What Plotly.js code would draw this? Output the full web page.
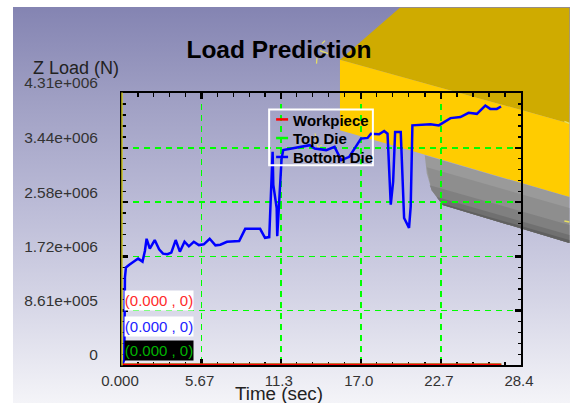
<!DOCTYPE html>
<html><head><meta charset="utf-8">
<script src="https://cdn.plot.ly/plotly-3.0.1.min.js"></script>
<style>
html,body{margin:0;padding:0;background:#fff;width:570px;height:403px;overflow:hidden}
#bg{position:absolute;left:13px;top:7px;width:557px;height:396px;background:linear-gradient(#8484b2,#a0a0c4 24%,#babad6 49%,#d5d5e6 74%,#f4f4f8)}
#plot{position:absolute;left:0;top:0;width:570px;height:403px}
</style></head><body>
<div id="bg"></div><div id="plot"></div>
<script>
const timeBottom=[0,0.16,0.21,0.28,0.52,0.87,1.15,1.46,1.63,1.75,1.98,2.33,2.64,2.92,3.23,3.51,3.82,4.12,4.45,4.76,5.11,5.47,5.82,6.24,6.65,7.0,7.47,8.34,8.77,9.83,10.18,10.48,10.72,10.77,11.01,11.05,11.24,11.36,11.48,12.18,12.89,13.36,13.71,14.54,15.13,15.6,16.18,16.66,17.01,17.48,17.72,18.3,18.66,18.9,19.01,19.13,19.3,19.44,19.84,19.95,20.08,20.43,20.55,20.67,21.96,22.55,23.38,24.09,24.67,25.26,25.86,26.21,26.68,26.98];
const loadBottom=[0,78000,1387000,1545000,1587000,1650000,1686000,1639000,1807000,2000000,1843000,1980000,1833000,1764000,1755000,1780000,1980000,1796000,1953000,1880000,1953000,1900000,1912000,2000000,1896000,1906000,1953000,1964000,2157000,2157000,2016000,2027000,3378000,2855000,2487000,2042000,2801000,3273000,3405000,3430000,3456000,3483000,3430000,3405000,3456000,3247000,3299000,3456000,3587000,3598000,3665000,3656000,3708000,3665000,3064000,2540000,2907000,3692000,3692000,3064000,2330000,2173000,2514000,3797000,3813000,3797000,3912000,3928000,3995000,3980000,4112000,4058000,4058000,4096000];
const timeFlat=[0,27.0];
const loadFlat=[0,0];
const xTicks=[0,5.67,11.3,17.0,22.7,28.4];
const xLabels=['0.000','5.67','11.3','17.0','22.7','28.4'];
const yTicks=[0,861000,1720000,2580000,3440000,4310000];
const yLabels=['0','8.61e+005','1.72e+006','2.58e+006','3.44e+006','4.31e+006'];
const seriesNames=['Workpiece','Top Die','Bottom Die'];
const cursorLabels=['(0.000 , 0)','(0.000 , 0)','(0.000 , 0)'];

const L=121.5,R=521.5,T=92.5,B=365.5,W=570,H=403;
const fx=x=>(x-L)/(R-L), fy=y=>(B-y)/(B-T);
const poly=(pts,color)=>({type:'path',xref:'paper',yref:'paper',layer:'below',fillcolor:color,line:{width:0},
  path:'M'+pts.map(p=>fx(p[0]).toFixed(4)+' '+fy(p[1]).toFixed(4)).join(' L')+' Z'});
const seg=(x0,y0,x1,y1,color,w,layer)=>({type:'line',xref:'paper',yref:'paper',layer:layer||'below',x0:fx(x0),y0:fy(y0),x1:fx(x1),y1:fy(y1),line:{color:color,width:w}});
const minorBetween=(ticks,n)=>{const o=[];for(let i=0;i<ticks.length-1;i++)for(let k=1;k<n;k++)o.push(ticks[i]+(ticks[i+1]-ticks[i])*k/n);return o;};
const shapes=[
 poly([[340,59],[400,7],[570,7],[570,123]],'#cfab00'),
 poly([[340,59],[570,123],[570,197],[410,150],[340,130]],'#ffcc00'),
 poly([[425,155],[570,197],[570,243],[443,205],[432,190],[427,173]],'#9a9a9a'),
 poly([[427,167],[570,208],[570,243],[443,205],[432,190]],'#8e8e8e'),
 poly([[430,185],[570,225],[570,243],[443,205],[432,190]],'#808080'),
 poly([[437,197],[570,235],[570,243],[443,205]],'#707070'),
 poly([[443,203.5],[570,240],[570,243],[443,205]],'#606060'),
 seg(320,50,328,53,'#e8e060',1.2), seg(322,43,325,40,'#e8e060',1.2), seg(317,57,316.5,63,'#e8e060',1.2),
 seg(565,121,570,123,'#e8e060',1.2), seg(565,221,570,222,'#e8e060',1.5),
 seg(315,133,318,148,'#e8e060',1), seg(317,147,322,145,'#e8e060',1),
 seg(121.5,92,121.5,366,'#c8c020',1.5,'above'),
 {type:'rect',xref:'paper',yref:'paper',layer:'above',x0:fx(269),x1:fx(373),y0:fy(109),y1:fy(165),line:{color:'#fff',width:2},fillcolor:'rgba(0,0,0,0)'},
 seg(276,119,288,119,'#ff0000',2.5,'above'),
 seg(276,137.7,288,137.7,'#00ff00',2.5,'above'),
 seg(276,156.7,288,156.7,'#0000ff',2.5,'above')
];
const flatLine=(i,color,w)=>({type:'scatter',mode:'lines',name:seriesNames[i],x:timeFlat,y:loadFlat,line:{color:color,width:w},cliponaxis:false});
const traces=[
 flatLine(1,'#00ff00',3),
 {type:'scatter',mode:'lines',name:seriesNames[2],x:timeBottom,y:loadBottom,line:{color:'#0000ff',width:2.5},cliponaxis:false},
 flatLine(0,'#ff0000',3)
];
const font='"Liberation Sans",Arial,sans-serif';
const note=(x,y,text,size,color,anchor,extra)=>Object.assign({xref:'paper',yref:'paper',x:fx(x),y:fy(y),xanchor:anchor||'center',yanchor:'middle',showarrow:false,text:text,font:{family:font,size:size,color:color}},extra||{});
const cursor=(i,color,bg,y)=>note(158.7,y,cursorLabels[i],15,color,'center',{bgcolor:bg,width:68,height:19,borderpad:0});
const axisCommon={tickmode:'array',ticks:'inside',ticklen:6,tickwidth:2.5,tickcolor:'#000',showline:true,linecolor:'#000',linewidth:2,mirror:'ticks',
  showgrid:true,gridcolor:'#00ff00',griddash:'6px,5px',gridwidth:1.5,zeroline:false,layer:'below traces',tickfont:{size:15,color:'#333'}};
const minorCommon={tickmode:'array',ticks:'inside',ticklen:3.5,tickwidth:1.2,tickcolor:'#000',showgrid:false};
const layout={
 width:W,height:H,paper_bgcolor:'rgba(0,0,0,0)',plot_bgcolor:'rgba(0,0,0,0)',showlegend:false,
 margin:{l:L,r:W-R,t:T,b:H-B,pad:0},font:{family:font,color:'#333'},
 title:{text:'<b>Load Prediction</b>',font:{family:font,size:24.5,color:'#000'},x:279/W,xref:'container',xanchor:'center',y:1-49.5/H,yref:'container',yanchor:'middle'},
 xaxis:Object.assign({},axisCommon,{range:[0,28.4],tickvals:xTicks,ticktext:xLabels,ticklabelshift:-2,ticklabelstandoff:1,
  minor:Object.assign({},minorCommon,{tickvals:minorBetween(xTicks,5)})}),
 yaxis:Object.assign({},axisCommon,{range:[0,4310000],tickvals:yTicks,ticktext:yLabels,ticklabelshift:-10,ticklabelstandoff:19,
  tickfont:{size:15.5,color:'#333'},
  minor:Object.assign({},minorCommon,{tickvals:minorBetween(yTicks,5)})}),
 shapes:shapes,
 annotations:[
  note(75,67,'Z Load (N)',18,'#222'),
  note(278.5,394,'Time (sec)',18.8,'#222'),
  cursor(0,'#ff2a2a','#ffffff',301),
  cursor(1,'#2222ff','#ffffff',326.5),
  cursor(2,'#00b400','#000000',350.5),
  note(291,120,'<b>'+seriesNames[0]+'</b>',15,'#000','left'),
  note(291,138,'<b>'+seriesNames[1]+'</b>',15,'#000','left'),
  note(291,157,'<b>'+seriesNames[2]+'</b>',15,'#000','left')
 ]
};
Plotly.newPlot('plot',traces,layout,{displayModeBar:false,staticPlot:true});
</script></body></html>
